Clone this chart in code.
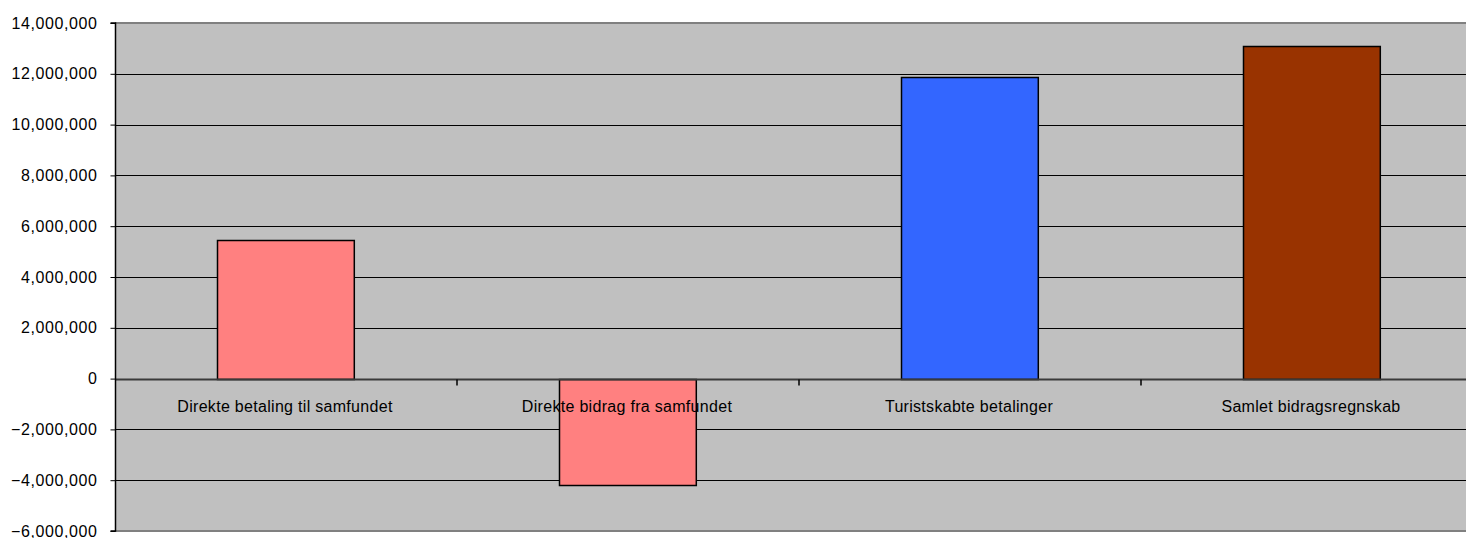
<!DOCTYPE html>
<html>
<head>
<meta charset="utf-8">
<script src="https://cdn.jsdelivr.net/npm/d3@7"></script>
<style>
	body { margin: 0; background: #fff; }
	text { font-family: 'Liberation Sans', Arial, sans-serif; fill: #000; }
</style>
</head>
<body>
<div class="visContainer"></div>
<script>
const w = 1466;
const h = 538;

const categories = [
	'Direkte betaling til samfundet',
	'Direkte bidrag fra samfundet',
	'Turistskabte betalinger',
	'Samlet bidragsregnskab'
];
const values = [5450000, -4190000, 11880000, 13100000];
const barColors = ['#FF8080', '#FF8080', '#3366FF', '#993300'];
const yTicks = [-6000000, -4000000, -2000000, 0, 2000000, 4000000, 6000000, 8000000, 10000000, 12000000, 14000000];

const plotLeft = 115;
const plotRight = 1483;
const plotTop = 23;
const plotBottom = 531;

const svgContainer = d3
	.select('.visContainer')
	.append('svg')
	.attr('width', w)
	.attr('height', h);

const xScale = d3
	.scaleBand()
	.domain(categories)
	.range([plotLeft, plotRight])
	.paddingInner(0.6)
	.paddingOuter(0.3);

const yScale = d3
	.scaleLinear()
	.domain([-6000000, 14000000])
	.range([plotBottom, plotTop]);

// plot background
svgContainer
	.append('rect')
	.attr('x', plotLeft)
	.attr('y', plotTop)
	.attr('width', plotRight - plotLeft)
	.attr('height', plotBottom - plotTop)
	.style('fill', '#C0C0C0');

// gridlines
svgContainer
	.append('g')
	.selectAll('line')
	.data(yTicks.filter((d) => d !== 0 && d !== 14000000 && d !== -6000000))
	.enter()
	.append('line')
	.attr('x1', plotLeft)
	.attr('x2', plotRight)
	.attr('y1', (d) => Math.round(yScale(d)) + 0.5)
	.attr('y2', (d) => Math.round(yScale(d)) + 0.5)
	.style('stroke', '#000')
	.style('stroke-width', 1);

// top and bottom border
svgContainer
	.selectAll('.border')
	.data([plotTop, plotBottom])
	.enter()
	.append('line')
	.attr('class', 'border')
	.attr('x1', plotLeft)
	.attr('x2', plotRight)
	.attr('y1', (d) => d)
	.attr('y2', (d) => d)
	.style('stroke', '#808080')
	.style('stroke-width', 2);

// bars
svgContainer
	.append('g')
	.selectAll('rect')
	.data(values)
	.enter()
	.append('rect')
	.attr('x', (d, i) => Math.round(xScale(categories[i])) - 0.5)
	.attr('y', (d) => Math.round(yScale(Math.max(0, d))) + 0.5)
	.attr('width', xScale.bandwidth())
	.attr('height', (d) => Math.abs(Math.round(yScale(d)) - Math.round(yScale(0))))
	.style('fill', (d, i) => barColors[i])
	.style('stroke', '#000')
	.style('stroke-width', 1.5);

// zero line with category ticks
const zeroY = Math.round(yScale(0)) + 0.5;
svgContainer
	.append('line')
	.attr('x1', plotLeft)
	.attr('x2', plotRight)
	.attr('y1', zeroY)
	.attr('y2', zeroY)
	.style('stroke', '#3a3a3a')
	.style('stroke-width', 2);

svgContainer
	.append('g')
	.selectAll('line')
	.data(categories.slice(1))
	.enter()
	.append('line')
	.attr('x1', (d) => xScale(d) - (xScale.step() * xScale.paddingInner()) / 2)
	.attr('x2', (d) => xScale(d) - (xScale.step() * xScale.paddingInner()) / 2)
	.attr('y1', zeroY)
	.attr('y2', zeroY + 6)
	.style('stroke', '#000')
	.style('stroke-width', 1.5);

// category labels
svgContainer
	.append('g')
	.selectAll('text')
	.data(categories)
	.enter()
	.append('text')
	.attr('x', (d) => xScale(d) + xScale.bandwidth() / 2 - 1)
	.attr('y', zeroY + 32)
	.attr('text-anchor', 'middle')
	.style('font-size', '16px')
	.style('letter-spacing', '0.3px')
	.text((d) => d);

// y axis
const yAxis = d3
	.axisLeft(yScale)
	.tickValues(yTicks)
	.tickSize(5)
	.tickPadding(13)
	.tickFormat(d3.format(','));

const yAxisGroup = svgContainer
	.append('g')
	.attr('id', 'y-axis')
	.attr('transform', 'translate(' + (plotLeft + 0.5) + ', 0)')
	.call(yAxis);

yAxisGroup.select('.domain').attr('d', 'M-5,' + plotTop + 'H0V' + plotBottom + 'H-5').style('stroke', '#000').style('stroke-width', 1.5);
yAxisGroup.selectAll('.tick line').style('stroke', '#000');
yAxisGroup
	.selectAll('.tick text')
	.style('font-size', '16px')
	.style('letter-spacing', '0.6px')
	.style('font-family', "'Liberation Sans', Arial, sans-serif");
</script>
</body>
</html>
